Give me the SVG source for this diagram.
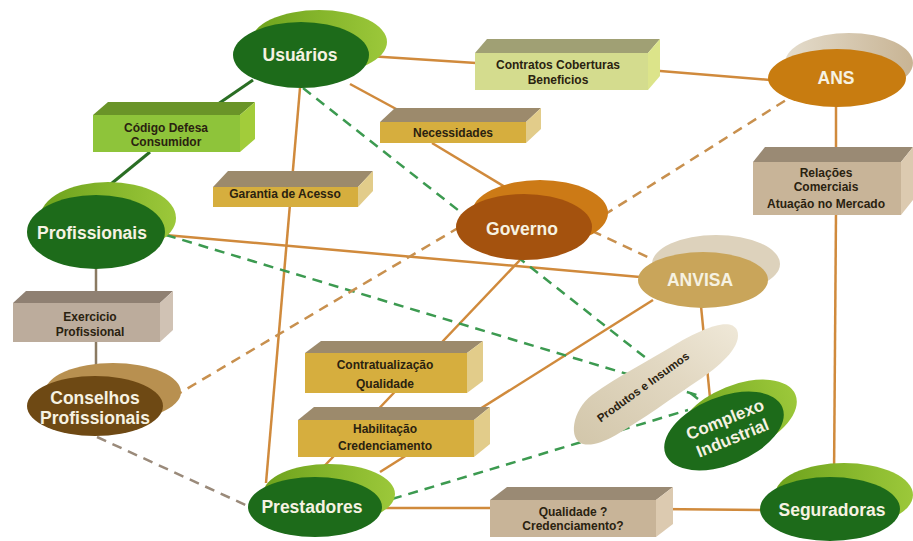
<svg xmlns="http://www.w3.org/2000/svg" width="913" height="541" viewBox="0 0 913 541">
<defs>
<style>
.ln{fill:none;stroke:#d08a3c;stroke-width:2.5}
.lg{fill:none;stroke:#2a6e24;stroke-width:3}
.lx{fill:none;stroke:#8a7a62;stroke-width:2.5}
.dg{fill:none;stroke:#3c9a50;stroke-width:2.5;stroke-dasharray:10 7}
.db{fill:none;stroke:#c8904e;stroke-width:2.5;stroke-dasharray:10 7}
.dx{fill:none;stroke:#9a8a7a;stroke-width:2.5;stroke-dasharray:10 7}
.nt{font-family:"Liberation Sans",Arial,sans-serif;font-weight:bold;font-size:17.5px;fill:#f6f2e2;text-anchor:middle}
.bt{font-family:"Liberation Sans",Arial,sans-serif;font-weight:bold;font-size:12px;fill:#2a2210;text-anchor:middle}
.gf{fill:#1d6b1a}.gb{fill:url(#gback)}
.cf{fill:#8ec43a}.ct{fill:#6a9428}.cs{fill:#a2cc3a}
.kf{fill:#d4dc8e}.kt{fill:#a0a074}.ks{fill:#dce48a}
.yf{fill:#d6ae3e}.yt{fill:#9c8a6c}.ys{fill:#e2cc8a}
.tf{fill:#c8b498}.tt{fill:#9a8a74}.ts{fill:#dccab0}
.ef{fill:#bcac9c}.et{fill:#8f8072}.es{fill:#d0c2b4}
</style>
<linearGradient id="gback" x1="0" y1="0" x2="1" y2="0">
<stop offset="0" stop-color="#6da21c"/><stop offset="1" stop-color="#9cc83a"/>
</linearGradient>
<linearGradient id="pi" x1="0" y1="1" x2="1" y2="0">
<stop offset="0" stop-color="#d2c6aa"/><stop offset="0.6" stop-color="#e2d8c2"/><stop offset="1" stop-color="#efe8d8"/>
</linearGradient>
<linearGradient id="ansb" x1="0" y1="0" x2="1" y2="0">
<stop offset="0" stop-color="#e4dccc"/><stop offset="1" stop-color="#c8b494"/>
</linearGradient>
</defs>

<g id="connectors">
<line class="ln" x1="368" y1="56" x2="476" y2="63"/>
<line class="ln" x1="648" y1="70" x2="770" y2="80"/>
<line class="ln" x1="350" y1="84" x2="398" y2="110"/>
<line class="ln" x1="432" y1="143" x2="520" y2="196"/>
<line class="ln" x1="300" y1="88" x2="266" y2="483"/>
<line class="lg" x1="253" y1="80" x2="218" y2="104"/>
<line class="lg" x1="150" y1="152" x2="95" y2="197"/>
<line class="ln" x1="165" y1="235" x2="640" y2="277"/>
<line class="lx" x1="96" y1="268" x2="96" y2="292"/>
<line class="lx" x1="96" y1="342" x2="96" y2="366"/>
<line class="ln" x1="520" y1="260" x2="313" y2="478"/>
<line class="ln" x1="653" y1="300" x2="380" y2="472"/>
<line class="ln" x1="701" y1="306" x2="710" y2="398"/>
<line class="ln" x1="836" y1="106" x2="836" y2="150"/>
<line class="ln" x1="836" y1="212" x2="834" y2="478"/>
<line class="ln" x1="380" y1="508" x2="492" y2="508"/>
<line class="ln" x1="656" y1="509" x2="762" y2="510"/>
<line class="dg" x1="303" y1="88" x2="698" y2="399"/>
<line class="dg" x1="166" y1="235" x2="700" y2="396"/>
<line class="dg" x1="392" y1="499" x2="688" y2="410"/>
<line class="db" x1="173" y1="397" x2="458" y2="228"/>
<line class="db" x1="604" y1="215" x2="786" y2="100"/>
<line class="db" x1="592" y1="231" x2="652" y2="259"/>
<line class="dx" x1="97" y1="437" x2="250" y2="507"/>
</g>

<g id="box-contratos">
<polygon class="kt" points="475,53 487,39 660,39 648,53"/>
<polygon class="ks" points="648,53 660,39 660,76 648,90"/>
<rect class="kf" x="475" y="53" width="173" height="37"/>
<text class="bt" x="558" y="69">Contratos Coberturas</text>
<text class="bt" x="558" y="84">Beneficios</text>
</g>
<g id="box-codigo">
<polygon class="ct" points="93,115 108,102 255,102 240,115"/>
<polygon class="cs" points="240,115 255,102 255,139 240,152"/>
<rect class="cf" x="93" y="115" width="147" height="37"/>
<text class="bt" x="166" y="132">Código Defesa</text>
<text class="bt" x="166" y="146">Consumidor</text>
</g>
<g id="box-necessidades">
<polygon class="yt" points="380,122 395,108 541,108 526,122"/>
<polygon class="ys" points="526,122 541,108 541,129 526,143"/>
<rect class="yf" x="380" y="122" width="146" height="21"/>
<text class="bt" x="453" y="137">Necessidades</text>
</g>
<g id="box-garantia">
<polygon class="yt" points="213,187 228,171 373,171 358,187"/>
<polygon class="ys" points="358,187 373,171 373,191 358,207"/>
<rect class="yf" x="213" y="187" width="145" height="20"/>
<text class="bt" x="285" y="198">Garantia de Acesso</text>
</g>
<g id="box-relacoes">
<polygon class="tt" points="753,162 765,147 913,147 901,162"/>
<polygon class="ts" points="901,162 913,147 913,200 901,215"/>
<rect class="tf" x="753" y="162" width="148" height="53"/>
<text class="bt" x="826" y="177">Relações</text>
<text class="bt" x="826" y="191">Comerciais</text>
<text class="bt" x="826" y="208">Atuação no Mercado</text>
</g>
<g id="box-exercicio">
<polygon class="et" points="13,303 26,291 173,291 160,303"/>
<polygon class="es" points="160,303 173,291 173,330 160,342"/>
<rect class="ef" x="13" y="303" width="147" height="39"/>
<text class="bt" x="90" y="321">Exercicio</text>
<text class="bt" x="90" y="336">Profissional</text>
</g>
<g id="box-contratualizacao">
<polygon class="yt" points="305,353 321,341 483,341 467,353"/>
<polygon class="ys" points="467,353 483,341 483,381 467,393"/>
<rect class="yf" x="305" y="353" width="162" height="40"/>
<text class="bt" x="385" y="369">Contratualização</text>
<text class="bt" x="385" y="388">Qualidade</text>
</g>
<g id="box-habilitacao">
<polygon class="yt" points="298,420 314,407 490,407 474,420"/>
<polygon class="ys" points="474,420 490,407 490,444 474,457"/>
<rect class="yf" x="298" y="420" width="176" height="37"/>
<text class="bt" x="385" y="433">Habilitação</text>
<text class="bt" x="385" y="450">Credenciamento</text>
</g>
<g id="box-qualidade">
<polygon class="tt" points="490,500 507,487 673,487 656,500"/>
<polygon class="ts" points="656,500 673,487 673,524 656,537"/>
<rect class="tf" x="490" y="500" width="166" height="37"/>
<text class="bt" x="573" y="516">Qualidade ?</text>
<text class="bt" x="573" y="530">Credenciamento?</text>
</g>

<g id="node-usuarios">
<ellipse class="gb" cx="319" cy="42" rx="68" ry="32"/>
<ellipse class="gf" cx="301" cy="55" rx="68" ry="33"/>
<text class="nt" x="300" y="61">Usuários</text>
</g>
<g id="node-profissionais">
<ellipse class="gb" cx="108" cy="218" rx="68" ry="36"/>
<ellipse class="gf" cx="96" cy="232" rx="69" ry="37"/>
<text class="nt" x="92" y="239">Profissionais</text>
</g>
<g id="node-governo">
<ellipse cx="540" cy="213" rx="68" ry="33" fill="#cc7a16"/>
<ellipse cx="524" cy="227" rx="68" ry="33" fill="#a4520e"/>
<text class="nt" x="522" y="235">Governo</text>
</g>
<g id="node-ans">
<ellipse cx="849" cy="63" rx="64" ry="30" fill="url(#ansb)"/>
<ellipse cx="837" cy="78" rx="69" ry="29" fill="#c87c10"/>
<text class="nt" x="836" y="84">ANS</text>
</g>
<g id="node-anvisa">
<ellipse cx="716" cy="264" rx="64" ry="29" fill="#ddd2bc"/>
<ellipse cx="703" cy="280" rx="65" ry="28" fill="#c9a55a"/>
<text class="nt" x="700" y="286">ANVISA</text>
</g>
<g id="node-prestadores">
<ellipse class="gb" cx="329" cy="494" rx="66" ry="30"/>
<ellipse class="gf" cx="315" cy="507" rx="67" ry="30"/>
<text class="nt" x="312" y="513">Prestadores</text>
</g>
<g id="node-seguradoras">
<ellipse class="gb" cx="844" cy="495" rx="69" ry="32"/>
<ellipse class="gf" cx="830" cy="509" rx="70" ry="32"/>
<text class="nt" x="832" y="516">Seguradoras</text>
</g>
<g id="node-conselhos">
<ellipse cx="113" cy="392" rx="68" ry="29" fill="#b89050"/>
<ellipse cx="95" cy="406" rx="68" ry="30" fill="#6e4914"/>
<text class="nt" x="95" y="404">Conselhos</text>
<text class="nt" x="95" y="424">Profissionais</text>
</g>
<g id="node-complexo">
<ellipse class="gb" cx="738" cy="418" rx="62" ry="33" transform="rotate(-22 738 418)"/>
<ellipse class="gf" cx="724" cy="431" rx="63" ry="34" transform="rotate(-22 724 431)"/>
<text class="nt" style="font-size:17px" transform="translate(722 428) rotate(-22)" x="6" y="-1">Complexo</text>
<text class="nt" style="font-size:17px" transform="translate(722 428) rotate(-22)" x="6" y="19">Industrial</text>
</g>
<g id="node-produtos">
<path d="M583,444 C568,440 572,410 592,395 C618,376 650,360 676,344 C700,330 730,316 737,330 C743,345 722,364 702,378 C672,398 642,420 616,435 C602,443 591,446 583,444 Z" fill="url(#pi)"/>
<text class="bt" transform="translate(643 387) rotate(-36)" x="0" y="4" style="font-size:11.5px">Produtos e Insumos</text>
</g>
</svg>
